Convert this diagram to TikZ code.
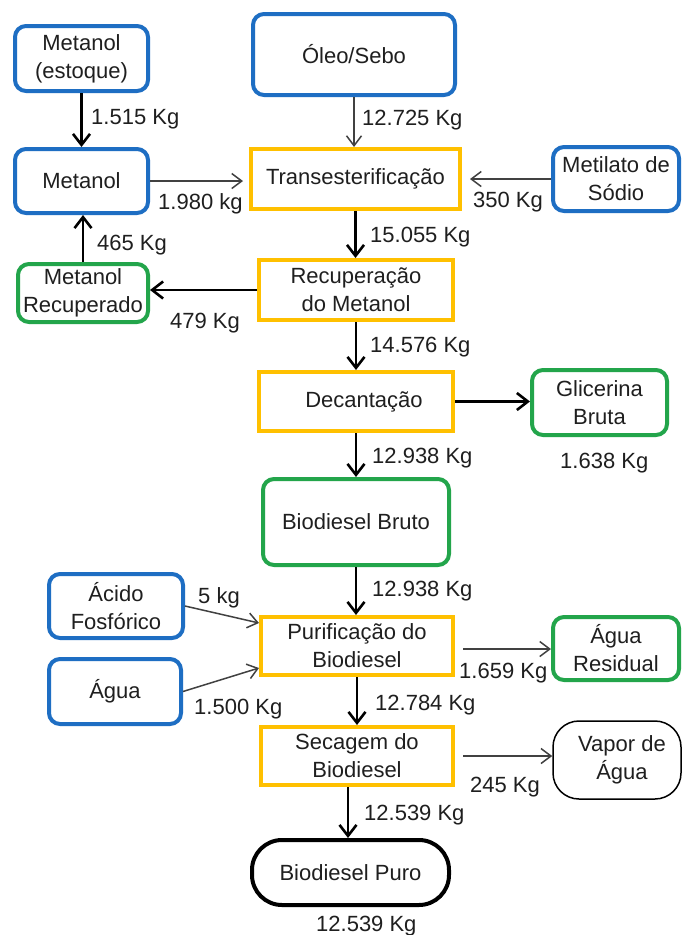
\documentclass[tikz,border=0pt]{standalone}
\usepackage{fontspec}
\setmainfont{Liberation Sans}
\usetikzlibrary{arrows.meta}
\definecolor{boxblue}{RGB}{30,110,195}
\definecolor{boxgreen}{RGB}{35,165,75}
\definecolor{boxyellow}{RGB}{255,192,0}
\definecolor{linegray}{RGB}{65,65,65}

\begin{document}
\begin{tikzpicture}[x=1pt,y=-1pt]
                        \tikzstyle{every node}=[rectangle,inner sep=0,align=center,font=\fontsize{22}{28}\selectfont,text=black!88]
                        \tikzstyle{note}=[draw=none,anchor=west]
                        \tikzstyle{inbox}=[draw=boxblue,line width=4pt,rounded corners=11pt]
                        \tikzstyle{outbox}=[draw=boxgreen,line width=4pt,rounded corners=11pt]
                        \tikzstyle{stepbox}=[draw=boxyellow,line width=4pt]
                        \tikzstyle{heavy}=[-{Straight Barb[length=11pt,width=17pt]},line width=2.6pt,black]
                        \tikzstyle{light}=[-{Straight Barb[length=10pt,width=15pt]},line width=1.5pt,linegray]
                        \useasboundingbox[fill=white] (0,0) rectangle (683,935);
                        {
                            % entradas e etapas
                            \node[inbox,minimum width=133,minimum height=65] (ms) at (81.5,58.5) {Metanol\\(estoque)};
                            \node[inbox,minimum width=202,minimum height=81] (oleo) at (354,54.5) {Óleo/Sebo};
                            \node[inbox,minimum width=133,minimum height=64] (metanol) at (81.5,181) {Metanol};
                            \node[stepbox,minimum width=209,minimum height=60] (trans) at (355.5,179) {Transesterificação};
                            \node[inbox,minimum width=126,minimum height=64] (metilato) at (616,179) {Metilato de\\Sódio};
                            \node[outbox,minimum width=130,minimum height=58] (mrec) at (83,293) {Metanol\\Recuperado};
                            \node[stepbox,minimum width=194,minimum height=60] (recup) at (356,290) {Recuperação\\do Metanol};
                            \node[stepbox,minimum width=194,minimum height=59] (decant) at (356,401.5) {\hspace*{16pt}Decantação};
                            \node[outbox,minimum width=135,minimum height=65] (glic) at (599.5,402.5) {Glicerina\\Bruta};
                            \node[outbox,minimum width=186,minimum height=86] (bbruto) at (356,522) {Biodiesel Bruto};
                            \node[inbox,minimum width=134,minimum height=64] (acido) at (116,606) {Ácido\\Fosfórico};
                            \node[stepbox,minimum width=192,minimum height=58] (purif) at (357,646) {Purificação do\\Biodiesel};
                            \node[inbox,minimum width=132,minimum height=65] (agua) at (115,691.5) {Água};
                            \node[outbox,minimum width=126,minimum height=63] (aguares) at (616,648.5) {Água\\Residual};
                            \node[stepbox,minimum width=192,minimum height=58] (secagem) at (357,756) {Secagem do\\Biodiesel};
                            \node[draw=black,line width=1.5pt,rounded corners=26pt,minimum width=128,minimum height=78] (vapor) at (617,760) {\hspace*{10pt}Vapor de\\\hspace*{10pt}Água};
                            \node[draw=black,line width=4pt,rounded corners=30pt,minimum width=197,minimum height=65] (bpuro) at (350.5,872.5) {Biodiesel Puro};

                            % fluxos principais
                            \path[heavy]
                                (ms.south) edge (ms.south |- metanol.north)
                                (trans.south) edge (trans.south |- recup.north)
                                (mrec.north) edge (mrec.north |- metanol.south)
                                (recup.west) edge (recup.west -| mrec.east)
                                (recup.south) edge (decant.north)
                                (decant.east) edge (decant.east -| glic.west)
                                (decant.south) edge (bbruto.north)
                                (bbruto.south) edge (bbruto.south |- purif.north)
                                (purif.south) edge (secagem.north)
                                ([xshift=-9pt]secagem.south) edge ([xshift=-9pt]secagem.south |- bpuro.north);
                            \path[light]
                                (oleo.south) edge (oleo.south |- trans.north)
                                (metanol.east) edge[shorten >=6pt] (metanol.east -| trans.west)
                                (metilato.west) edge[shorten >=8pt] (metilato.west -| trans.east)
                                (acido.east) edge ([yshift=23pt]purif.west)
                                (agua.east) edge ([yshift=-22pt]purif.west)
                                ([yshift=-3pt]purif.east) edge[shorten <=8pt] ([yshift=-3pt]purif.east -| aguares.west)
                                (secagem.east) edge[shorten <=8pt] (secagem.east -| vapor.west);

                            % massas
                            \node[note] (l1) at (91,119) {1.515 Kg};
                            \node[note] (l2) at (362,120) {12.725 Kg};
                            \node[note] (l3) at (158,204) {1.980 kg};
                            \node[note] (l4) at (473,202) {350 Kg};
                            \node[note] (l5) at (370,237) {15.055 Kg};
                            \node[note] (l6) at (97,245) {465 Kg};
                            \node[note] (l7) at (170,323) {479 Kg};
                            \node[note] (l8) at (370,347) {14.576 Kg};
                            \node[note] (l9) at (560,463) {1.638 Kg};
                            \node[note] (l10) at (372,458) {12.938 Kg};
                            \node[note] (l11) at (372,591) {12.938 Kg};
                            \node[note] (l12) at (198,598) {5 kg};
                            \node[note] (l13) at (194,709) {1.500 Kg};
                            \node[note] (l14) at (459,673) {1.659 Kg};
                            \node[note] (l15) at (375,705) {12.784 Kg};
                            \node[note] (l16) at (470,787) {245 Kg};
                            \node[note] (l17) at (364,815) {12.539 Kg};
                            \node[note] (l18) at (316,926) {12.539 Kg};
                        }
\end{tikzpicture}
\end{document}
